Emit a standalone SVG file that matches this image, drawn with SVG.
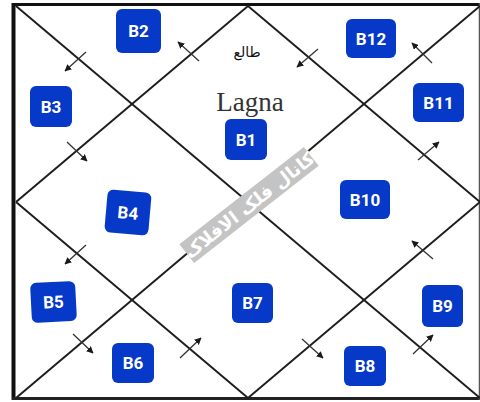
<svg xmlns="http://www.w3.org/2000/svg" width="480" height="402" viewBox="0 0 480 402">
<defs>
<marker id="ah" viewBox="0 0 10 10" refX="9" refY="5" markerWidth="7" markerHeight="7" markerUnits="userSpaceOnUse" orient="auto">
<path d="M0,0 L10,5 L0,10 z" fill="#1a1a1a"/>
</marker>
<style>
.ln{stroke:#1e1e1e;stroke-width:2;fill:none}
.ar{stroke:#333;stroke-width:1.3;fill:none;marker-end:url(#ah)}
.bx{fill:#0639c8}
.bt{fill:#fff;font-family:Roboto,"Liberation Sans",sans-serif;font-size:17px;font-weight:bold;text-anchor:middle;dominant-baseline:central}
</style>
</defs>
<rect x="0" y="0" width="480" height="402" fill="#fff"/>
<g id="frame">
<line x1="13.5" y1="3" x2="13.5" y2="400" stroke="#111" stroke-width="4"/>
<line x1="12" y1="4.5" x2="480" y2="4.5" stroke="#111" stroke-width="3"/>
<line x1="12" y1="398.5" x2="480" y2="398.5" stroke="#222" stroke-width="3"/>
<line x1="479.5" y1="3" x2="479.5" y2="400" stroke="#555" stroke-width="1.5"/>
</g>
<g id="lines">
<line class="ln" x1="16" y1="6" x2="480" y2="398"/>
<line class="ln" x1="16" y1="398" x2="480" y2="6"/>
<polyline class="ln" points="16,202 248,6 480,202 248,398 16,202"/>
</g>
<g id="connectors">
<line class="ar" x1="199" y1="61" x2="178" y2="42"/>
<line class="ar" x1="86" y1="52" x2="65" y2="71"/>
<line class="ar" x1="67" y1="142" x2="87" y2="161"/>
<line class="ar" x1="318" y1="49" x2="297" y2="67"/>
<line class="ar" x1="432" y1="63" x2="412" y2="43"/>
<line class="ar" x1="418" y1="160" x2="439" y2="142"/>
<line class="ar" x1="86" y1="245" x2="65" y2="264"/>
<line class="ar" x1="73" y1="334" x2="93" y2="353"/>
<line class="ar" x1="180" y1="358" x2="201" y2="338"/>
<line class="ar" x1="433" y1="259" x2="412" y2="241"/>
<line class="ar" x1="302" y1="339" x2="323" y2="358"/>
<line class="ar" x1="413" y1="354" x2="433" y2="335"/>
</g>
<g id="labels">
<text x="247" y="57" font-family="'DejaVu Sans',sans-serif" font-size="14" text-anchor="middle" fill="#111">طالع</text>
<text x="250" y="111" font-family="'Liberation Serif',serif" font-size="27" text-anchor="middle" fill="#333">Lagna</text>
</g>
<g id="B1"><rect class="bx" x="225" y="119" width="42" height="41" rx="6"/><text class="bt" x="246" y="140">B1</text></g>
<g id="B2"><rect class="bx" x="116" y="9" width="45" height="44" rx="6"/><text class="bt" x="138.5" y="31">B2</text></g>
<g id="B3"><rect class="bx" x="30" y="86" width="42" height="41" rx="6"/><text class="bt" x="51" y="107">B3</text></g>
<g id="B4" transform="rotate(5 128 212)"><rect class="bx" x="106" y="191" width="44" height="43" rx="6"/><text class="bt" x="128" y="213">B4</text></g>
<g id="B5" transform="rotate(-3 53 302)"><rect class="bx" x="31" y="282" width="45" height="40" rx="6"/><text class="bt" x="53.5" y="302">B5</text></g>
<g id="B6"><rect class="bx" x="112" y="343" width="42" height="40" rx="6"/><text class="bt" x="133" y="363">B6</text></g>
<g id="B7"><rect class="bx" x="232" y="283" width="41" height="40" rx="6"/><text class="bt" x="252.5" y="303">B7</text></g>
<g id="B8"><rect class="bx" x="344" y="346" width="42" height="40" rx="6"/><text class="bt" x="365" y="366">B8</text></g>
<g id="B9"><rect class="bx" x="422" y="285" width="41" height="42" rx="6"/><text class="bt" x="442.5" y="306">B9</text></g>
<g id="B10"><rect class="bx" x="340" y="180" width="50" height="39" rx="6"/><text class="bt" x="365" y="199.5">B10</text></g>
<g id="B11"><rect class="bx" x="413" y="83" width="51" height="39" rx="6"/><text class="bt" x="438.5" y="102.5">B11</text></g>
<g id="B12"><rect class="bx" x="346" y="19" width="50" height="39" rx="6"/><text class="bt" x="371" y="38.5">B12</text></g>
<g id="watermark" transform="translate(249 205) rotate(-38)">
<rect x="-79" y="-12" width="158" height="24" fill="#c4c4c4"/>
<text x="0" y="0" font-family="'DejaVu Sans',sans-serif" font-size="18" font-weight="bold" fill="#fff" text-anchor="middle" dominant-baseline="central">کانال فلک الافلاک</text>
</g>
</svg>
